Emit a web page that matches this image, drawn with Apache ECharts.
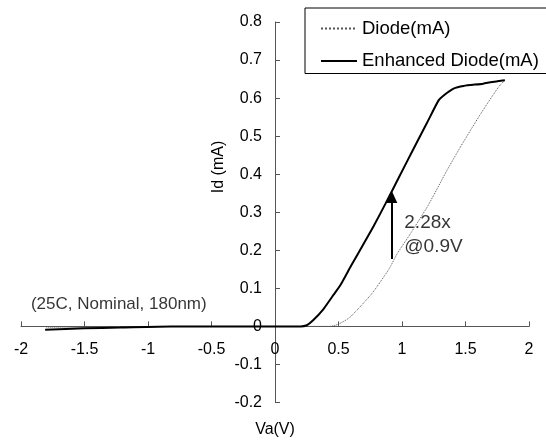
<!DOCTYPE html>
<html>
<head>
<meta charset="utf-8">
<script src="https://cdn.jsdelivr.net/npm/echarts@6/dist/echarts.min.js"></script>
<style>
  html, body { margin: 0; padding: 0; background: #fff; }
  #chart { width: 546px; height: 441px; }
</style>
</head>
<body>
<div id="chart"></div>
<script>
'use strict';

// ---- data ----
const diodeV = [-1.8, -1.5, -1.2, -1.0, -0.8, -0.5, 0, 0.3, 0.43, 0.5, 0.59, 0.75, 0.8, 0.9, 0.96, 1.065, 1.197, 1.25, 1.354, 1.459, 1.62, 1.76, 1.81];
const diodeI = [-0.002, -0.002, -0.001, -0.001, 0, 0, 0, 0, 0, 0.006, 0.024, 0.081, 0.103, 0.152, 0.19, 0.243, 0.313, 0.345, 0.41, 0.471, 0.559, 0.629, 0.647];
const enhV = [-1.81, -1.5, -1.22, -0.82, -0.5, 0, 0.2, 0.25, 0.30, 0.38, 0.45, 0.514, 0.6, 0.698, 0.776, 0.869, 0.973, 1.091, 1.197, 1.288, 1.328, 1.406, 1.485, 1.64, 1.76, 1.81];
const enhI = [-0.009, -0.005, -0.003, 0, 0, 0, 0, 0.003, 0.016, 0.045, 0.078, 0.108, 0.16, 0.217, 0.263, 0.322, 0.39, 0.467, 0.535, 0.594, 0.607, 0.625, 0.632, 0.638, 0.645, 0.647];
const xTicks = { min: -2, max: 2, step: 0.5 };
const yTicks = { min: -0.2, max: 0.8, step: 0.1 };
const arrowFrom = [0.92, 0.177];
const arrowTo = [0.92, 0.34];
const notes = [
  { at: [1.018, 0.242], text: '2.28x\n@0.9V', size: 19 },
  { at: [-1.23, 0.059], text: '(25C, Nominal, 180nm)', size: 17 }
];

const ink = '#000';
const axisCol = '#555';
const font = 'Liberation Sans, Arial, sans-serif';
const zip = (xs, ys) => xs.map((x, i) => [x, ys[i]]);

// plot box; the axes cross at zero inside it
const G = { left: 21, right: 17, top: 22, bottom: 38.5 };
const W = 546 - G.left - G.right, H = 441 - G.top - G.bottom;
const yAxisShift = W * (0 - xTicks.min) / (xTicks.max - xTicks.min);
const xAxisShift = H * (0 - yTicks.min) / (yTicks.max - yTicks.min);

const chart = echarts.init(document.getElementById('chart'));
chart.setOption({
  animation: false,
  textStyle: { fontFamily: font },
  grid: { ...G, outerBoundsMode: 'none', containLabel: false },
  legend: {
    data: ['Diode(mA)', 'Enhanced Diode(mA)'],
    orient: 'vertical', left: 305, top: 8,
    itemWidth: 36, itemHeight: 18, itemGap: 13.5,
    padding: [11, 8, 3, 15],
    borderColor: ink, borderWidth: 1, borderRadius: 0,
    itemStyle: { opacity: 0 },
    textStyle: { fontFamily: font, fontSize: 18.5, color: ink }
  },
  xAxis: {
    type: 'value', min: xTicks.min, max: xTicks.max, interval: xTicks.step,
    offset: -xAxisShift,
    axisLine: { onZero: false, lineStyle: { color: axisCol } },
    axisTick: { inside: true, length: 5, lineStyle: { color: axisCol } },
    axisLabel: { margin: 15, fontSize: 16, color: ink, fontFamily: font },
    splitLine: { show: false }
  },
  yAxis: {
    type: 'value', min: yTicks.min, max: yTicks.max, interval: yTicks.step,
    offset: -yAxisShift,
    axisLine: { show: true, onZero: false, lineStyle: { color: axisCol } },
    axisTick: { show: true, inside: true, length: 5, lineStyle: { color: axisCol } },
    axisLabel: { margin: 13, fontSize: 16, color: ink, fontFamily: font, formatter: v => String(Math.round(v * 10) / 10) },
    splitLine: { show: false }
  },
  graphic: [
    { type: 'text', x: 219, y: 167, rotation: Math.PI / 2,
      style: { text: 'Id (mA)', font: '16px ' + font, fill: ink, align: 'center', verticalAlign: 'middle' } },
    { type: 'text', x: 275, y: 430,
      style: { text: 'Va(V)', font: '16px ' + font, fill: ink, align: 'center', verticalAlign: 'middle' } }
  ],
  series: [
    {
      name: 'Diode(mA)', type: 'line', data: zip(diodeV, diodeI), symbol: 'none', smooth: 0.2,
      lineStyle: { color: '#555', width: 1, type: 'dotted' }, itemStyle: { color: '#555' }
    },
    {
      name: 'Enhanced Diode(mA)', type: 'line', data: zip(enhV, enhI), symbol: 'none', smooth: 0.2,
      lineStyle: { color: ink, width: 2 }, itemStyle: { color: ink },
      markLine: {
        silent: true, symbol: ['none', 'triangle'], symbolSize: [11, 12],
        lineStyle: { color: ink, width: 2, type: 'solid' }, label: { show: false },
        data: [[{ coord: arrowFrom }, { coord: arrowTo }]]
      }
    },
    {
      name: 'notes', type: 'scatter', symbolSize: 0, silent: true,
      data: notes.map(n => ({ value: n.at, name: n.text, label: { fontSize: n.size } })),
      label: {
        show: true, position: 'inside', formatter: p => p.name,
        lineHeight: 24, color: ink, fontFamily: font
      },
      labelLayout: p => p.dataIndex === 0 ? { align: 'left' } : {}
    }
  ]
});
</script>
</body>
</html>
